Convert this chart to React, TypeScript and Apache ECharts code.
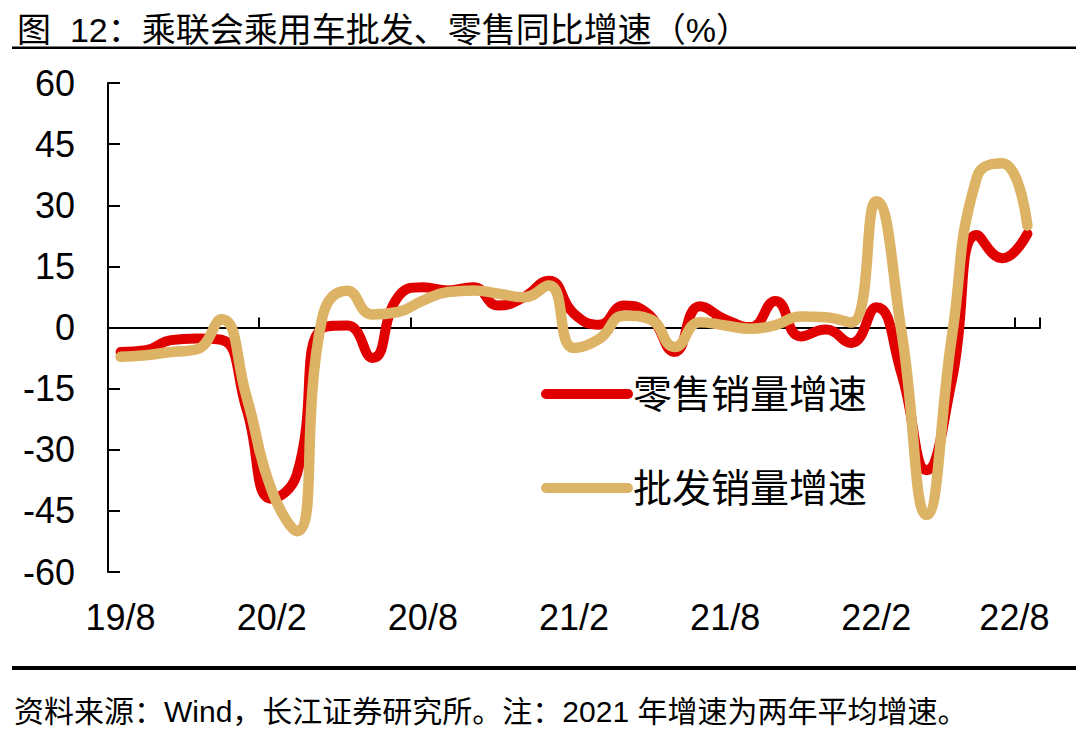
import React, { useEffect, useRef } from 'react';
import * as echarts from 'echarts';

const categories = [
  '19/8', '19/9', '19/10', '19/11', '19/12',
  '20/1', '20/2', '20/3', '20/4', '20/5', '20/6', '20/7', '20/8', '20/9', '20/10', '20/11', '20/12',
  '21/1', '21/2', '21/3', '21/4', '21/5', '21/6', '21/7', '21/8', '21/9', '21/10', '21/11', '21/12',
  '22/1', '22/2', '22/3', '22/4', '22/5', '22/6', '22/7', '22/8',
];

const retailGrowth = [
  -6.0, -5.6, -3.1, -2.7, -3.0,
  -20, -42, -36, -0.2, 0.5, -7.5, 7.4, 9.9, 9.1, 9.9, 5.4, 7.4,
  11.5, 3.4, 0.7, 5.4, 3.0, -6.0, 5.2, 2.0, 0.1, 6.5, -2.2, -0.5,
  -3.8, 5.0, -11.3, -35, -13, 22.7, 17, 23,
];

const wholesaleGrowth = [
  -7.2, -6.8, -6.0, -5.4, 2.0,
  -17, -40, -50, 2.2, 9.0, 3.2, 3.8, 6.6, 8.7, 9.1, 8.3, 7.4,
  10.3, -5.0, -2.8, 2.9, 2.1, -4.8, 1.3, 0.5, -0.3, 0.6, 2.7, 2.5,
  1.2, 31, -1.0, -46, -2.3, 37, 40.3, 25,
];

const seriesNames = ['零售销量增速', '批发销量增速'];
const titleText = '图  12：乘联会乘用车批发、零售同比增速（%）';
const sourceText = '资料来源：Wind，长江证券研究所。注：2021 年增速为两年平均增速。';

const FONT = "'Liberation Sans', 'Noto Sans CJK SC', sans-serif";
const RED = '#E00000';
const GOLD = '#DDB366';

export default function App() {
  const ref = useRef<HTMLDivElement>(null);

  useEffect(() => {
    if (!ref.current) return;
    const chart = echarts.init(ref.current, null, { renderer: 'svg' });
    const option: any = {
      animation: false,
      title: {
        text: titleText,
        left: 12,
        top: 8,
        textStyle: { fontSize: 34, fontWeight: 'normal', color: '#000', fontFamily: FONT },
      },
      legend: {
        orient: 'vertical',
        left: 536,
        top: 369,
        itemWidth: 82,
        itemHeight: 10,
        itemGap: 54,
        textStyle: { fontSize: 39, lineHeight: 40, color: '#000', fontFamily: FONT },
        lineStyle: { width: 10, cap: 'round' },
        data: seriesNames,
      },
      grid: { left: 108, top: 83, width: 932, height: 489 },
      xAxis: [
        {
          type: 'category',
          data: categories,
          boundaryGap: true,
          position: 'bottom',
          axisLine: { show: true, onZero: true, lineStyle: { color: '#000', width: 2 } },
          axisTick: { show: true, inside: true, interval: 5, length: 10, lineStyle: { color: '#000', width: 2 } },
          axisLabel: { show: false },
          splitLine: { show: false },
        },
        {
          type: 'category',
          data: categories,
          boundaryGap: true,
          position: 'bottom',
          axisLine: { show: false, onZero: false },
          axisTick: { show: false },
          splitLine: { show: false },
          axisLabel: {
            interval: 5,
            fontSize: 36,
            margin: 27,
            color: '#000',
            fontFamily: FONT,
            formatter: (v: string, i: number) => (i === categories.length - 1 ? '{l|' + v + '}' : v),
            rich: { l: { fontSize: 36, color: '#000', fontFamily: FONT, padding: [0, 26, 0, 0] } },
          },
        },
      ],
      yAxis: {
        type: 'value',
        min: -60,
        max: 60,
        interval: 15,
        axisLine: { show: true, lineStyle: { color: '#000', width: 2 } },
        axisTick: { show: true, inside: true, length: 12, lineStyle: { color: '#000', width: 2 } },
        splitLine: { show: false },
        axisLabel: { fontSize: 36, margin: 33, color: '#000', fontFamily: FONT },
      },
      series: [
        {
          name: seriesNames[0],
          type: 'line',
          data: retailGrowth,
          smooth: 0.5,
          symbol: 'none',
          itemStyle: { color: RED },
          lineStyle: { color: RED, width: 10, cap: 'round', join: 'round' },
        },
        {
          name: seriesNames[1],
          type: 'line',
          data: wholesaleGrowth,
          smooth: 0.5,
          symbol: 'none',
          itemStyle: { color: GOLD },
          lineStyle: { color: GOLD, width: 10.5, cap: 'round', join: 'round' },
        },
      ],
      graphic: [
        { type: 'rect', shape: { x: 12, y: 46.5, width: 1064, height: 2.5 }, style: { fill: '#000' } },
        { type: 'rect', shape: { x: 12, y: 666, width: 1064, height: 4 }, style: { fill: '#000' } },
        {
          type: 'text',
          left: 14,
          top: 696,
          style: { text: sourceText, fontSize: 30, fill: '#000', fontFamily: FONT },
        },
      ],
    };
    chart.setOption(option);
    return () => chart.dispose();
  }, []);

  return (
    <div
      ref={ref}
      style={{ position: 'fixed', left: 0, top: 0, width: 1080, height: 736, background: '#fff' }}
    />
  );
}
